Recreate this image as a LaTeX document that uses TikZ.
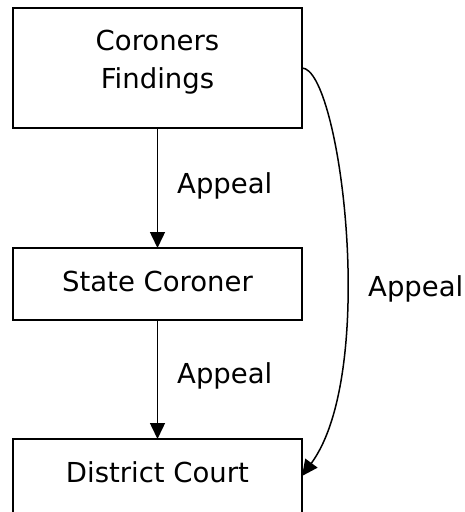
\documentclass[tikz,border=0pt]{standalone}
\usepackage{fontspec}
\setmainfont{DejaVu Sans}
\usetikzlibrary{arrows.meta}
\begin{document}
\begin{tikzpicture}[x=1pt,y=-1pt,
  box/.style={draw=black, line width=1.5pt, minimum width=289pt, inner sep=0pt, outer sep=0pt},
  lbl/.style={inner sep=0pt, anchor=base west},
  arr/.style={line width=1.5pt, -{Triangle[length=16pt,width=15pt]}},
  font=\fontsize{27.5}{38}\selectfont]
\useasboundingbox (0,0) rectangle (465,512);
\node[box, minimum height=120pt] (cf) at (157.5,68) {};
\node[inner sep=0pt, align=center] (cft) at (157.5,62.5) {Coroners\\Findings};
\node[box, minimum height=72pt, text height=20pt, text depth=6pt] (sc) at (157.5,284) {State Coroner};
\node[box, minimum height=74pt, text height=20pt, text depth=8pt] (dc) at (157.5,476) {District Court};
\draw[arr] (cf.south) -- (sc.north);
\draw[arr] (sc.south) -- (dc.north);
\draw[arr] (cf.east) .. controls +(38,0) and +(77,-105) .. (dc.east);
\node[lbl] (l1) at (177,193.3) {Appeal};
\node[lbl] (l2) at (177,383.5) {Appeal};
\node[lbl] (l3) at (368,296.7) {Appeal};
\end{tikzpicture}
\end{document}
